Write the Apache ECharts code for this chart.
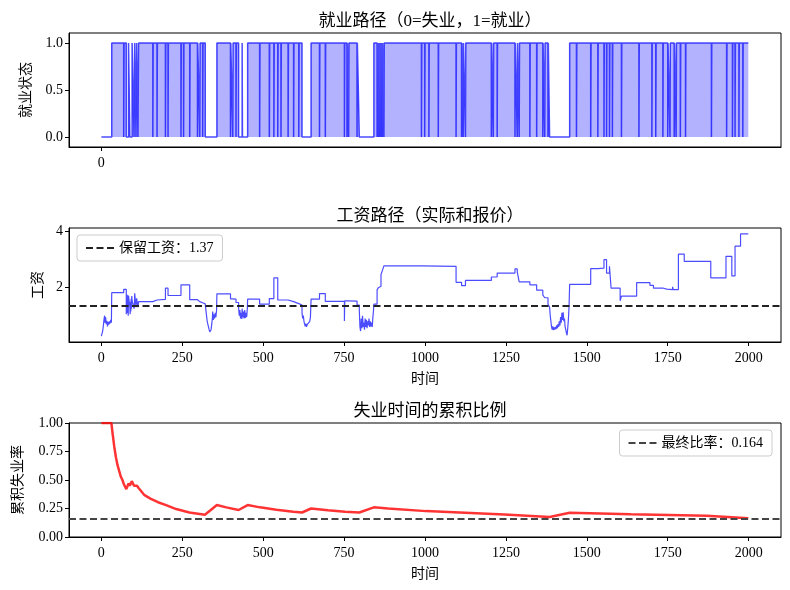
<!DOCTYPE html>
<html>
<head>
<meta charset="utf-8">
<script src="https://cdn.jsdelivr.net/npm/echarts@6/dist/echarts.min.js"></script>
<style>
html,body{margin:0;padding:0;background:#fff;}
#main{width:790px;height:590px;}
</style>
</head>
<body>
<div id="main"></div>
<script>
var FONT = "'Liberation Serif','Noto Sans CJK SC',serif";

// 时间刻度
var xTicks = [0, 250, 500, 750, 1000, 1250, 1500, 1750, 2000];
var reserveWage = 1.37;
var finalRatio = 0.164;

// 失业区间 [开始, 结束)
var unempSpells = [[0,32],[77,84],[88,95],[101,103],[107,109],[113,115],[321,357],[424,435],[436,452],
	[620,648],[797,842],[1385,1447]];
// 只持续一期的失业
var unempBrief = [69,159,172,198,206,246,254,273,297,304,313,399,406,416,489,519,533,545,555,577,594,610,
	674,692,751,759,764,790,852,856,860,864,868,873,989,999,1012,1041,1096,1113,1118,1125,1205,1211,1223,
	1278,1285,1291,1324,1345,1364,1370,1380,1468,1512,1534,1553,1561,1570,1579,1607,1661,1701,1713,1735,
	1750,1757,1770,1776,1789,1805,1885,1932,1950,1958,1970,1982];

// 工资路径 [时间, 工资]
var wageSteps = [[0,0.27],[2,0.33],[4,0.45],[6,0.62],[8,0.85],[10,1.0],[11,0.75],[13,0.95],[15,0.7],[17,0.82],
	[19,0.62],[21,0.78],[23,0.68],[25,0.8],[27,0.72],[29,0.85],[31,0.75],
	[32,1.82],[69,1.94],
	[77,1.05],[78,1.6],[79,1.2],[80,1.75],[81,1.1],[82,1.4],[83,1.0],[84,1.72],
	[88,1.3],[89,1.05],[90,1.5],[91,1.15],[92,1.6],[93,1.25],[94,1.7],[95,1.55],
	[101,1.25],[102,1.35],[103,1.8],[107,1.3],[109,1.62],[113,1.3],[115,1.5],
	[159,1.56],[172,1.58],[198,1.98],[206,1.72],[246,2.1],[273,1.57],[297,1.5],[304,1.46],[313,1.47],[316,1.42],
	[321,1.35],[323,1.2],[325,1.0],[327,0.8],[329,0.7],[331,0.6],[333,0.5],[335,0.42],[337,0.35],[339,0.5],
	[341,0.7],[343,0.9],[344,1.15],[346,0.85],[348,1.05],[350,0.9],[352,1.1],[354,0.95],[356,1.2],
	[357,1.78],[399,1.6],[406,1.59],[416,1.47],
	[424,1.3],[426,1.0],[428,1.2],[430,0.9],[432,1.1],[434,0.88],[435,1.25],[437,0.95],[439,1.15],[441,0.9],
	[443,1.2],[445,0.92],[447,1.1],[449,0.95],[451,1.25],
	[452,1.59],[489,1.41],[519,1.61],[533,2.35],[545,1.56],[577,1.5],[594,1.43],[610,1.38],
	[620,1.1],[622,0.9],[624,1.0],[626,0.8],[628,0.7],[630,0.62],[632,0.72],[634,0.6],[636,0.68],[638,0.63],
	[640,0.75],[642,0.65],[644,0.8],[646,0.95],
	[648,1.59],[674,1.79],[692,1.51],[751,0.81],[752,1.53],[759,1.51],[764,1.52],[790,1.38],
	[797,1.2],[799,0.6],[801,0.45],[803,0.9],[805,0.55],[807,1.0],[809,0.6],[811,0.75],[813,0.5],[815,0.9],
	[817,0.6],[819,0.85],[821,0.55],[823,0.8],[825,0.65],[827,0.9],[829,0.6],[831,0.8],[833,0.62],[835,0.75],
	[837,0.6],[839,0.95],[841,1.2],
	[842,1.41],[852,1.92],[856,2.0],[860,2.05],[864,2.47],[868,2.6],[873,2.78],
	[989,2.76],[1096,2.19],[1113,2.07],[1125,2.26],[1205,2.38],[1223,2.52],[1278,2.67],[1285,2.56],[1291,2.21],
	[1324,2.1],[1345,1.91],[1364,1.74],[1370,1.64],[1380,1.42],
	[1385,1.3],[1387,1.0],[1389,0.8],[1391,0.6],[1393,0.5],[1395,0.62],[1397,0.48],[1399,0.58],[1401,0.5],
	[1403,0.6],[1405,0.52],[1407,0.65],[1409,0.55],[1411,0.7],[1413,0.6],[1415,0.8],[1417,0.65],[1419,0.95],
	[1421,0.75],[1423,1.1],[1425,0.85],[1427,1.12],[1429,0.8],[1431,0.9],[1433,0.6],[1435,0.5],[1437,0.38],
	[1439,0.3],[1441,0.55],[1443,0.85],[1445,1.3],
	[1447,2.12],[1512,2.68],[1534,2.7],[1553,3.0],[1561,2.52],[1570,2.76],[1575,1.98],[1603,1.53],[1607,1.7],
	[1654,2.18],[1695,2.08],[1706,1.98],[1737,1.95],[1747,1.93],[1765,2.03],[1767,1.93],[1783,3.2],[1801,2.94],
	[1883,2.35],[1930,3.12],[1948,2.42],[1958,3.48],[1975,3.92],[1999,3.92]];

// 累积失业率 [时间, 比例]
var unempRatio = [[0,1],[31,1],[35,0.9],[40,0.79],[45,0.7],[50,0.63],[55,0.58],[60,0.53],[65,0.5],[70,0.46],
	[77,0.42],[84,0.47],[88,0.45],[94,0.49],[101,0.45],[107,0.44],[110,0.45],[115,0.43],[132,0.37],[153,0.335],
	[175,0.305],[200,0.28],[231,0.245],[272,0.215],[320,0.195],[357,0.28],[386,0.26],[424,0.237],[452,0.28],
	[490,0.26],[541,0.24],[593,0.222],[620,0.215],[648,0.25],[700,0.235],[753,0.222],[797,0.215],[842,0.26],
	[886,0.25],[1003,0.227],[1245,0.197],[1385,0.176],[1447,0.213],[1636,0.2],[1870,0.186],[1999,0.164]];

// 就业状态的阶梯点
var spells = unempSpells.slice();
for (var i = 0; i < unempBrief.length; i++) spells.push([unempBrief[i], unempBrief[i] + 1]);
spells.sort(function (a, b) { return a[0] - b[0]; });
var statusPts = [];
for (var j = 0; j < spells.length; j++) {
	statusPts.push([spells[j][0], 0]);
	statusPts.push([spells[j][1], 1]);
}
statusPts.push([1999, 1]);

var tickStyle = { color: '#000', fontSize: 14, fontFamily: FONT };

function xAxisFor(idx, showName, ticks) {
	return {
		type: 'value', gridIndex: idx, min: -100, max: 2100,
		name: showName ? '时间' : '', nameLocation: 'middle', nameGap: 30,
		nameTextStyle: { color: '#000', fontSize: 14, fontFamily: FONT },
		axisLine: { show: true, onZero: false, lineStyle: { color: '#000' } },
		axisTick: { show: true, length: 4, customValues: ticks, lineStyle: { color: '#000' } },
		axisLabel: Object.assign({
			customValues: ticks, margin: 9,
			formatter: function (v) { return String(v); }
		}, tickStyle),
		splitLine: { show: false }
	};
}

function yAxisFor(idx, name, gap, min, max, ticks, digits) {
	return {
		type: 'value', gridIndex: idx, min: min, max: max,
		name: name, nameLocation: 'middle', nameGap: gap, nameRotate: 90,
		nameTextStyle: { color: '#000', fontSize: 14, fontFamily: FONT },
		axisLine: { show: true, onZero: false, lineStyle: { color: '#000' } },
		axisTick: { show: true, length: 4, customValues: ticks, lineStyle: { color: '#000' } },
		axisLabel: Object.assign({
			customValues: ticks, margin: 6,
			formatter: function (v) { return v.toFixed(digits); }
		}, tickStyle),
		splitLine: { show: false }
	};
}

function gridAt(top) {
	return { left: 69, top: top, width: 712, height: 114, show: true, borderColor: '#000', borderWidth: 1, backgroundColor: 'transparent' };
}

function legendAt(name, pos) {
	return Object.assign({
		data: [name], orient: 'vertical',
		backgroundColor: 'rgba(255,255,255,0.8)', borderColor: '#ccc', borderWidth: 1, borderRadius: 3,
		padding: [6, 9, 6, 8], itemWidth: 28, itemHeight: 14, itemGap: 4,
		itemStyle: { color: 'transparent', borderColor: 'transparent', borderWidth: 0 },
		textStyle: { color: '#000', fontSize: 14, fontFamily: FONT }
	}, pos);
}

var titleStyle = { color: '#000', fontSize: 17, fontWeight: 'normal', fontFamily: FONT };
var dash = [7, 3.5];

var option = {
	animation: false,
	backgroundColor: '#fff',
	title: [
		{ text: '就业路径（0=失业，1=就业）', left: 425, top: 8, textAlign: 'center', textStyle: titleStyle },
		{ text: '工资路径（实际和报价）', left: 425, top: 203, textAlign: 'center', textStyle: titleStyle },
		{ text: '失业时间的累积比例', left: 425, top: 398, textAlign: 'center', textStyle: titleStyle }
	],
	legend: [
		legendAt('保留工资：' + reserveWage, { left: 77, top: 235 }),
		legendAt('最终比率：' + finalRatio, { right: 18, top: 430 })
	],
	grid: [gridAt(33), gridAt(228), gridAt(423)],
	xAxis: [
		xAxisFor(0, false, [0]),
		xAxisFor(1, true, xTicks),
		xAxisFor(2, true, xTicks)
	],
	yAxis: [
		yAxisFor(0, '就业状态', 36, -0.107, 1.107, [0, 0.5, 1], 1),
		yAxisFor(1, '工资', 24, 0.06, 4.13, [2, 4], 0),
		yAxisFor(2, '累积失业率', 44, 0, 1, [0, 0.25, 0.5, 0.75, 1], 2)
	],
	series: [
		{
			type: 'line', xAxisIndex: 0, yAxisIndex: 0, step: 'end', showSymbol: false, symbol: 'none',
			data: statusPts,
			lineStyle: { color: 'rgba(0,0,255,0.7)', width: 1.5 },
			areaStyle: { color: '#0000ff', opacity: 0.3 }
		},
		{
			type: 'line', xAxisIndex: 1, yAxisIndex: 1, step: 'end', showSymbol: false, symbol: 'none',
			data: wageSteps,
			lineStyle: { color: 'rgba(0,0,255,0.7)', width: 1.2 }
		},
		{
			name: '保留工资：' + reserveWage,
			type: 'line', xAxisIndex: 1, yAxisIndex: 1, symbol: 'none', data: [],
			itemStyle: { color: '#222' },
			lineStyle: { color: '#222', width: 2, type: dash },
			markLine: {
				silent: true, symbol: ['none', 'none'], label: { show: false },
				lineStyle: { color: '#222', width: 2, type: dash },
				data: [{ yAxis: reserveWage }]
			}
		},
		{
			type: 'line', xAxisIndex: 2, yAxisIndex: 2, showSymbol: false, symbol: 'none',
			data: unempRatio,
			lineStyle: { color: 'rgba(255,0,0,0.8)', width: 2.5 }
		},
		{
			name: '最终比率：' + finalRatio,
			type: 'line', xAxisIndex: 2, yAxisIndex: 2, symbol: 'none', data: [],
			itemStyle: { color: '#444' },
			lineStyle: { color: '#444', width: 2, type: dash },
			markLine: {
				silent: true, symbol: ['none', 'none'], label: { show: false },
				lineStyle: { color: '#444', width: 2, type: dash },
				data: [{ yAxis: finalRatio }]
			}
		}
	]
};

var MyEchart = echarts.init(document.getElementById('main'));
MyEchart.setOption(option);
</script>
</body>
</html>
